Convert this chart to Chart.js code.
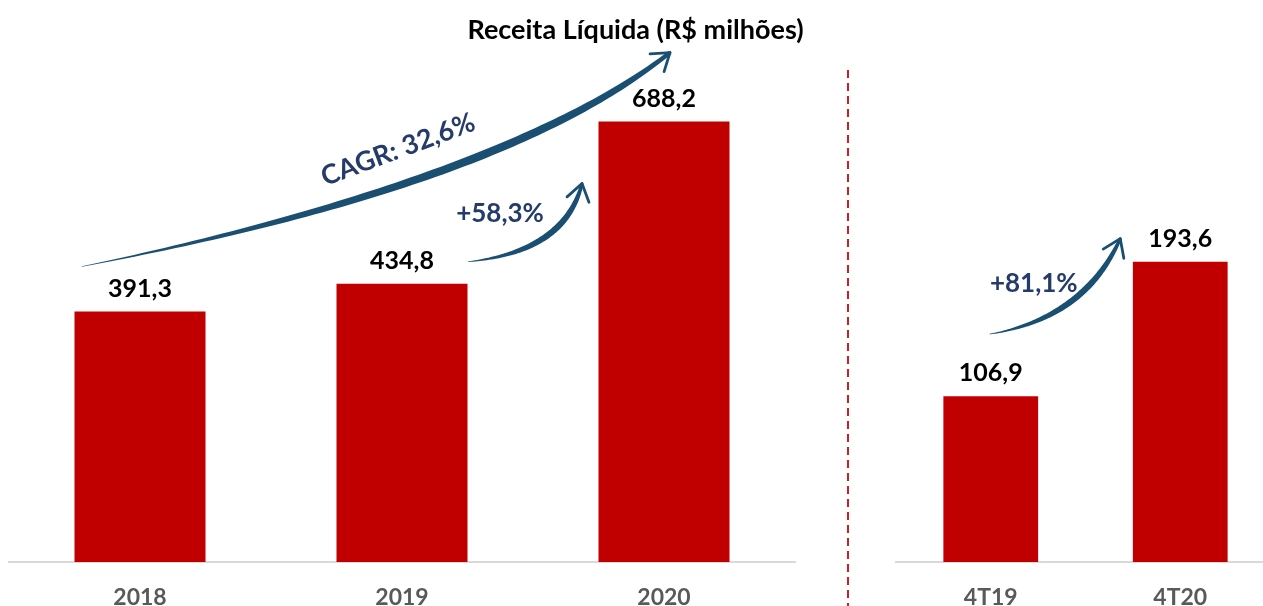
<!DOCTYPE html>
<html>
<head>
<meta charset="utf-8">
<script src="https://cdn.jsdelivr.net/npm/chart.js@4.4.1/dist/chart.umd.min.js"></script>
<style>
  html, body { margin: 0; padding: 0; background: #fff; overflow: hidden; }
  #wrap { position: relative; width: 1263px; height: 606px; }
  #ctyear { position: absolute; left: 0; top: 0; }
  #ctquarter { position: absolute; left: 860px; top: 0; }
</style>
</head>
<body>
<div id="wrap">
  <canvas id="ctyear" width="1263" height="606"></canvas>
  <canvas id="ctquarter" width="420" height="606"></canvas>
</div>
<script>
var yearLabels = ["2018", "2019", "2020"];
var yearValues = [391.3, 434.8, 688.2];
var quarterLabels = ["4T19", "4T20"];
var quarterValues = [106.9, 193.6];

var barColor = "#C00000";
var arrowColor = "#1B4F72";
var noteColor = "#253C6B";
var fontName = "Lato, 'Open Sans', sans-serif";

function fmt(v) {
  return v.toFixed(1).replace(".", ",");
}

// tapered brush stroke along a quadratic curve, with an open arrow head
function brushArrow(ctx, p0, p1, p2, wMax) {
  var N = 80, left = [], right = [];
  for (var i = 0; i <= N; i++) {
    var t = i / N, u = 1 - t;
    var x = u * u * p0[0] + 2 * u * t * p1[0] + t * t * p2[0];
    var y = u * u * p0[1] + 2 * u * t * p1[1] + t * t * p2[1];
    var dx = 2 * u * (p1[0] - p0[0]) + 2 * t * (p2[0] - p1[0]);
    var dy = 2 * u * (p1[1] - p0[1]) + 2 * t * (p2[1] - p1[1]);
    var len = Math.sqrt(dx * dx + dy * dy) || 1;
    var nx = -dy / len, ny = dx / len;
    var w = 0.3 + wMax * Math.sin(Math.PI * t * 0.85);
    left.push([x + nx * w, y + ny * w]);
    right.push([x - nx * w, y - ny * w]);
  }
  ctx.save();
  ctx.fillStyle = arrowColor;
  ctx.beginPath();
  ctx.moveTo(left[0][0], left[0][1]);
  left.forEach(function (p) { ctx.lineTo(p[0], p[1]); });
  right.reverse().forEach(function (p) { ctx.lineTo(p[0], p[1]); });
  ctx.closePath();
  ctx.fill();

  var ex = p2[0] - p1[0], ey = p2[1] - p1[1];
  var el = Math.sqrt(ex * ex + ey * ey);
  var back = Math.atan2(-ey / el, -ex / el);
  ctx.strokeStyle = arrowColor;
  ctx.lineWidth = 2.8;
  ctx.lineCap = "round";
  [-0.6, 0.6].forEach(function (a) {
    ctx.beginPath();
    ctx.moveTo(p2[0], p2[1]);
    ctx.lineTo(p2[0] + 20 * Math.cos(back + a), p2[1] + 20 * Math.sin(back + a));
    ctx.stroke();
  });
  ctx.restore();
}

var valueLabels = {
  id: "valueLabels",
  afterDatasetsDraw: function (chart) {
    var ctx = chart.ctx;
    var meta = chart.getDatasetMeta(0);
    var values = chart.data.datasets[0].data;
    ctx.save();
    ctx.fillStyle = "#000";
    ctx.font = "bold 25px " + fontName;
    ctx.textAlign = "center";
    ctx.textBaseline = "alphabetic";
    meta.data.forEach(function (bar, i) {
      ctx.fillText(fmt(values[i]), bar.x, bar.y - 15);
    });
    ctx.restore();
  }
};

var yearNotes = {
  id: "yearNotes",
  afterDraw: function (chart) {
    var ctx = chart.ctx;
    var b = chart.getDatasetMeta(0).data;
    var area = chart.chartArea;

    // title
    ctx.save();
    ctx.fillStyle = "#000";
    ctx.font = "bold 27px " + fontName;
    ctx.textAlign = "center";
    ctx.textBaseline = "middle";
    ctx.fillText("Receita Líquida (R$ milhões)", chart.width / 2 + 4, 30);

    // divider
    ctx.strokeStyle = "#D01C24";
    ctx.lineWidth = 2;
    ctx.setLineDash([8, 5]);
    ctx.beginPath();
    ctx.moveTo(area.right + 53, 70);
    ctx.lineTo(area.right + 53, chart.height);
    ctx.stroke();
    ctx.restore();

    // CAGR arrow
    brushArrow(ctx,
      [b[0].x - 58, b[0].y - 45],
      [b[1].x + 105, b[1].y - 102],
      [b[2].x + 6, b[2].y - 69], 3.8);
    // 2019 -> 2020 arrow
    brushArrow(ctx,
      [b[1].x + 66, b[1].y - 22],
      [b[1].x + 163, b[1].y - 32],
      [b[2].x - 82, b[2].y + 62], 2.8);

    ctx.save();
    ctx.fillStyle = noteColor;
    ctx.textAlign = "center";
    ctx.textBaseline = "middle";
    ctx.font = "bold 27px " + fontName;
    ctx.translate(b[1].x - 4, b[1].y - 134);
    ctx.rotate(-20.5 * Math.PI / 180);
    ctx.fillText("CAGR: 32,6%", 0, 0);
    ctx.restore();

    ctx.save();
    ctx.fillStyle = noteColor;
    ctx.textAlign = "center";
    ctx.textBaseline = "middle";
    ctx.font = "bold 26px " + fontName;
    ctx.fillText("+58,3%", b[1].x + 98, b[1].y - 70);
    ctx.restore();
  }
};

var quarterNotes = {
  id: "quarterNotes",
  afterDraw: function (chart) {
    var ctx = chart.ctx;
    var b = chart.getDatasetMeta(0).data;
    brushArrow(ctx,
      [b[0].x - 1, b[0].y - 62],
      [b[0].x + 94, b[0].y - 78],
      [b[1].x - 60, b[1].y - 23], 2.8);
    ctx.save();
    ctx.fillStyle = noteColor;
    ctx.textAlign = "center";
    ctx.textBaseline = "middle";
    ctx.font = "bold 26px " + fontName;
    ctx.fillText("+81,1%", b[0].x + 43, b[0].y - 113);
    ctx.restore();
  }
};

function xAxis() {
  return {
    grid: { display: false, drawTicks: false },
    border: { display: true, color: "#D9D9D9", width: 2 },
    ticks: {
      color: "#595959",
      padding: 22,
      font: { family: fontName, weight: "bold", size: 23 }
    },
    afterFit: function (s) { s.height = 44; }
  };
}

new Chart("ctyear", {
  type: "bar",
  data: {
    labels: yearLabels,
    datasets: [{
      backgroundColor: barColor,
      data: yearValues,
      barPercentage: 1,
      categoryPercentage: 0.5
    }]
  },
  options: {
    responsive: false,
    animation: false,
    layout: { padding: { left: 9, right: 468, top: 50, bottom: 0 } },
    plugins: { legend: { display: false }, tooltip: { enabled: false } },
    scales: {
      x: xAxis(),
      y: { display: false, min: 0, max: 800 }
    }
  },
  plugins: [valueLabels, yearNotes]
});

new Chart("ctquarter", {
  type: "bar",
  data: {
    labels: quarterLabels,
    datasets: [{
      backgroundColor: barColor,
      data: quarterValues,
      barPercentage: 1,
      categoryPercentage: 0.5
    }]
  },
  options: {
    responsive: false,
    animation: false,
    layout: { padding: { left: 36, right: 5, top: 50, bottom: 0 } },
    plugins: { legend: { display: false }, tooltip: { enabled: false } },
    scales: {
      x: xAxis(),
      y: { display: false, min: 0, max: 330 }
    }
  },
  plugins: [valueLabels, quarterNotes]
});
</script>
</body>
</html>
